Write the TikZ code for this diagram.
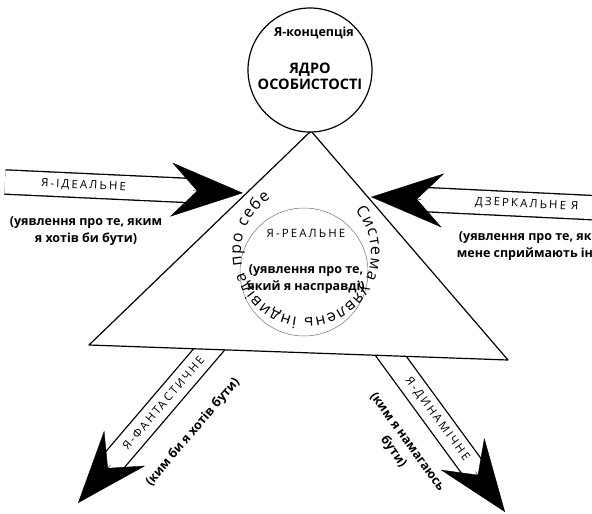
\documentclass[tikz,border=0pt]{standalone}
\usepackage{fontspec}
\setmainfont{Open Sans}
\newfontfamily\spacedfont[LetterSpace=18]{Open Sans}
\newfontfamily\ringfamily{Open Sans}
\newcommand\ringfont{\ringfamily\fontsize{16}{18}\selectfont}
\usetikzlibrary{arrows.meta,calc,decorations.text}

\tikzset{
  thickline/.style={line width=1.2pt},
  shaft/.style={line width=1.3pt,double distance=23pt},
  head/.style={line width=0.4pt,-{Stealth[length=72pt,width=54pt,inset=26pt]}},
  capsname/.style={font=\spacedfont\fontsize{11.5}{13}\selectfont,inner sep=0pt},
  note/.style={font=\bfseries\fontsize{12.5}{17}\selectfont,align=center,inner sep=0pt},
}

\begin{document}
\begin{tikzpicture}[x=1pt,y=1pt]
  \useasboundingbox (0,0) rectangle (592,-514);
  \clip (0,0) rectangle (592,-514);

  % tails and tips of the four arrows
  \coordinate (idealfrom) at (5,-182);
  \coordinate (idealtip) at (243,-193);
  \coordinate (mirrorfrom) at (600,-208);
  \coordinate (mirrortip) at (371,-197);
  \coordinate (fantasyfrom) at (224,-332);
  \coordinate (fantasytip) at (78,-503);
  \coordinate (dynamicfrom) at (377,-337);
  \coordinate (dynamictip) at (505,-512);

  % lower arrows start under the triangle
  \foreach \a/\b in {fantasyfrom/fantasytip,dynamicfrom/dynamictip} {
    \draw[shaft] (\a) -- ($(\b)!46pt!(\a)$);
    \draw[head] ($(\b)!50pt!(\a)$) -- (\b);
  }

  % triangle
  \coordinate (apex) at (311,-131);
  \coordinate (leftcorner) at (89,-345);
  \coordinate (rightcorner) at (508,-360);
  \draw[thickline,fill=white,line join=round] (apex) -- (leftcorner) -- (rightcorner) -- cycle;

  % side arrows
  \foreach \a/\b in {idealfrom/idealtip,mirrorfrom/mirrortip} {
    \draw[shaft] (\a) -- ($(\b)!46pt!(\a)$);
    \draw[head] ($(\b)!50pt!(\a)$) -- (\b);
  }

  % names on the arrows
  \path (idealfrom) -- (idealtip) node[capsname,sloped,pos=0.33] (ideal) {Я-ІДЕАЛЬНЕ};
  \path (mirrorfrom) -- (mirrortip) node[capsname,sloped,pos=0.32] (mirror) {ДЗЕРКАЛЬНЕ Я};
  \path (fantasyfrom) -- (fantasytip) node[capsname,sloped,pos=0.416] (fantasy) {Я-ФАНТАСТИЧНЕ};
  \path (dynamicfrom) -- (dynamictip) node[capsname,sloped,pos=0.47] (dynamic) {Я-ДИНАМІЧНЕ};

  \node[note] (idealnote) at (86,-231) {(уявлення про те, яким\\я хотів би бути)};
  \node[note] (mirrornote) at (535,-246) {(уявлення про те, яким\\мене сприймають інші)};
  \node[note,rotate=49.5] (fantasynote) at (193,-432) {(ким би я хотів бути)};
  \node[note,rotate=-54] (dynamicnote) at (400,-447) {(ким я намагаюсь\\бути)};

  % core of the personality
  \node[circle,draw,thickline,fill=white,minimum size=124pt,inner sep=0pt] (core) at (310,-70) {};
  \node[font=\bfseries\fontsize{12.5}{14}\selectfont] (concept) at (314,-33) {Я-концепція};
  \node[font=\bfseries\fontsize{14.5}{15.5}\selectfont,align=center] (nucleus) at (310,-76.5) {ЯДРО\\ОСОБИСТОСТІ};

  % real self and the ring of text
  \node[circle,draw=black!55,line width=0.5pt,minimum size=128pt] (self) at (304,-272) {};
  \node[capsname] (real) at (306,-233) {Я-РЕАЛЬНЕ};
  \node[note] (realnote) at (306,-279.5) {(уявлення про те,\\який я насправді)};
  \coordinate (ring) at (306,-253);
  \path[decorate,decoration={text along path,text align={fit to path},
      text={|\ringfont|Система уявлень індивіда про себе}}]
    ([shift={(41:65)}]ring) arc[start angle=41,end angle=-237,radius=65];
\end{tikzpicture}
\end{document}
